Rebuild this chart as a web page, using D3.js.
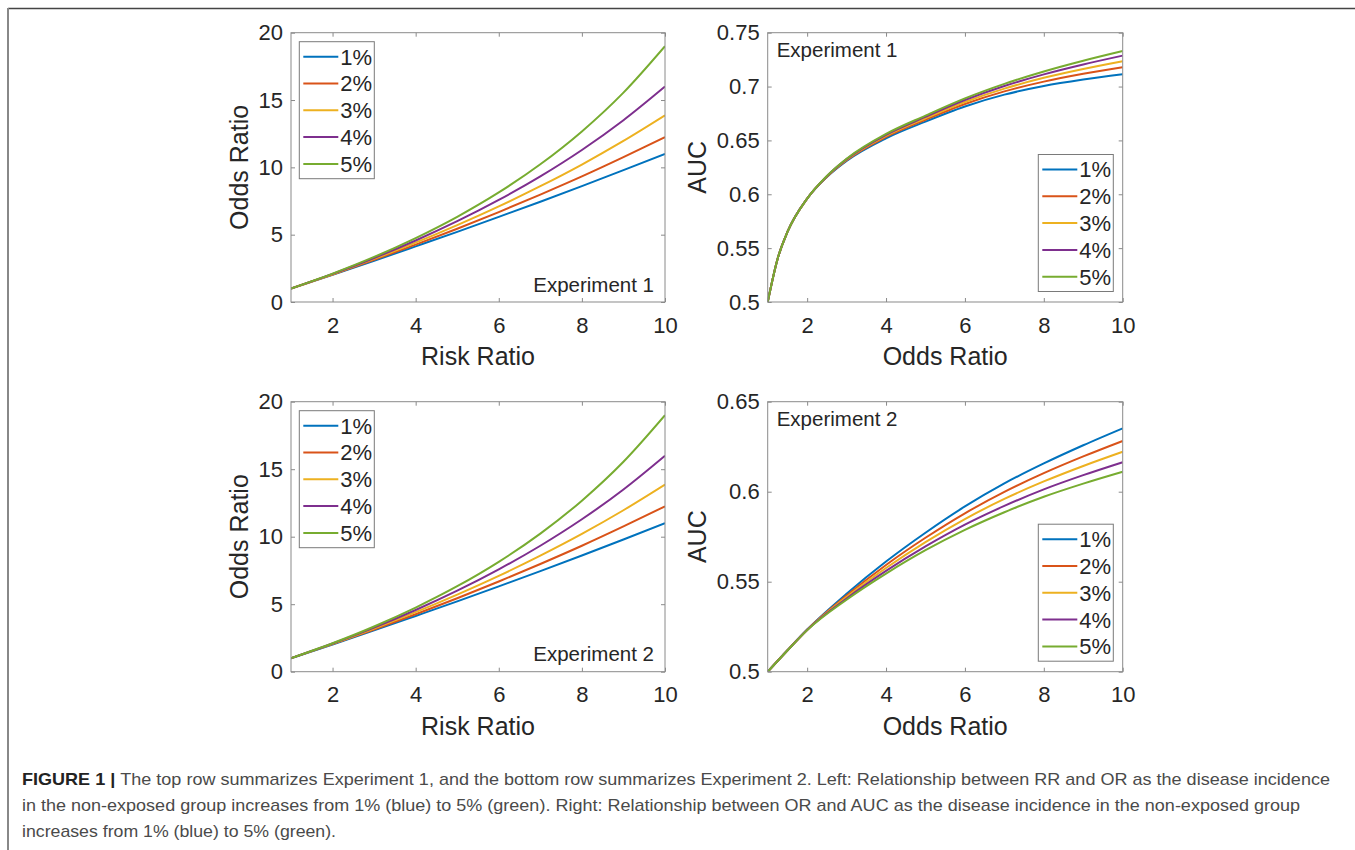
<!DOCTYPE html>
<html>
<head>
<meta charset="utf-8">
<script src="https://cdn.jsdelivr.net/npm/d3@7"></script>
<style>
  body { margin: 0; background: #fff; }
  svg { display: block; font-family: Arial, "Liberation Sans", Helvetica, sans-serif; }
</style>
</head>
<body>
<div id="chart"></div>
<script>
// series (incidence in the non-exposed group)
const seriesLabels = ["1%", "2%", "3%", "4%", "5%"];
const seriesColors = ["#0072BD", "#D95319", "#EDB120", "#7E2F8E", "#77AC30"];

// left panels: Risk Ratio -> Odds Ratio
const riskRatio = [1, 2, 3, 4, 5, 6, 7, 8, 9, 10];
const oddsRatio1 = [1, 2.02, 3.06, 4.13, 5.21, 6.32, 7.45, 8.61, 9.79, 11.0];
const oddsRatio2 = [1, 2.04, 3.13, 4.26, 5.44, 6.68, 7.98, 9.33, 10.76, 12.25];
const oddsRatio3 = [1, 2.06, 3.20, 4.41, 5.71, 7.10, 8.60, 10.21, 11.96, 13.86];
const oddsRatio4 = [1, 2.09, 3.27, 4.57, 6.00, 7.58, 9.33, 11.29, 13.50, 16.0];
const oddsRatio5 = [1, 2.11, 3.35, 4.75, 6.33, 8.14, 10.23, 12.67, 15.55, 19.0];

// top right: Odds Ratio -> AUC, Experiment 1
const orAxis1 = [1, 1.25, 1.5, 2, 2.5, 3, 4, 5, 6, 7, 8, 9, 10];
const aucExp1a = [0.5, 0.540, 0.565, 0.596, 0.616, 0.631, 0.652, 0.6675, 0.6815, 0.6925, 0.7005, 0.7065, 0.7115];
const aucExp1b = [0.5, 0.540, 0.565, 0.596, 0.6163, 0.6316, 0.6532, 0.6692, 0.6838, 0.6955, 0.7046, 0.7118, 0.718];
const aucExp1c = [0.5, 0.540, 0.565, 0.596, 0.6166, 0.6321, 0.6542, 0.6706, 0.6857, 0.6981, 0.7081, 0.7163, 0.7235];
const aucExp1d = [0.5, 0.540, 0.565, 0.596, 0.6168, 0.6326, 0.6552, 0.6719, 0.6875, 0.7005, 0.7113, 0.7205, 0.7287];
const aucExp1e = [0.5, 0.540, 0.565, 0.596, 0.617, 0.633, 0.656, 0.673, 0.689, 0.7025, 0.714, 0.724, 0.733];

// bottom right: Odds Ratio -> AUC, Experiment 2
const orAxis2 = [1, 1.5, 2, 3, 4, 5, 6, 7, 8, 9, 10];
const aucExp2a = [0.5, 0.5119, 0.5234, 0.5433, 0.5612, 0.5772, 0.5918, 0.6046, 0.6157, 0.6258, 0.6352];
const aucExp2b = [0.5, 0.5119, 0.5233, 0.5423, 0.5593, 0.5744, 0.5880, 0.5999, 0.6103, 0.6196, 0.6282];
const aucExp2c = [0.5, 0.5118, 0.5232, 0.5415, 0.5576, 0.5720, 0.5848, 0.5960, 0.6057, 0.6143, 0.6222];
const aucExp2d = [0.5, 0.5118, 0.5232, 0.5407, 0.5560, 0.5696, 0.5817, 0.5921, 0.6013, 0.6092, 0.6164];
const aucExp2e = [0.5, 0.5118, 0.5231, 0.5400, 0.5545, 0.5675, 0.5788, 0.5886, 0.5972, 0.6045, 0.6111];

// ticks
const xTickValues = [2, 4, 6, 8, 10];
const orTickValues = [0, 5, 10, 15, 20];
const aucTicks1 = [0.5, 0.55, 0.6, 0.65, 0.7, 0.75];
const aucTicks2 = [0.5, 0.55, 0.6, 0.65];

const captionLines = [
  "The top row summarizes Experiment 1, and the bottom row summarizes Experiment 2. Left: Relationship between RR and OR as the disease incidence",
  "in the non-exposed group increases from 1% (blue) to 5% (green). Right: Relationship between OR and AUC as the disease incidence in the non-exposed group",
  "increases from 1% (blue) to 5% (green)."
];

const width = 1355, height = 850;
const svg = d3.select("#chart").append("svg")
  .attr("width", width)
  .attr("height", height);

// figure frame (top + left rules)
svg.append("line").attr("x1", 8).attr("x2", width).attr("y1", 8.5).attr("y2", 8.5)
  .attr("stroke", "#444").attr("stroke-width", 1.5);
svg.append("line").attr("x1", 8).attr("x2", 8).attr("y1", 8).attr("y2", height)
  .attr("stroke", "#888").attr("stroke-width", 2);

const panels = [
  { left: 291, right: 665, top: 32.7, bottom: 302, xs: riskRatio,
    ys: [oddsRatio1, oddsRatio2, oddsRatio3, oddsRatio4, oddsRatio5],
    yDomain: [0, 20], yTicks: orTickValues, xLabel: "Risk Ratio", yLabel: "Odds Ratio",
    legend: "topleft", note: "Experiment 1", notePos: "bottomright" },
  { left: 767.7, right: 1122.7, top: 32.7, bottom: 302, xs: orAxis1,
    ys: [aucExp1a, aucExp1b, aucExp1c, aucExp1d, aucExp1e],
    yDomain: [0.5, 0.75], yTicks: aucTicks1, xLabel: "Odds Ratio", yLabel: "AUC",
    legend: "bottomright", note: "Experiment 1", notePos: "topleft" },
  { left: 291, right: 665, top: 401.7, bottom: 671.7, xs: riskRatio,
    ys: [oddsRatio1, oddsRatio2, oddsRatio3, oddsRatio4, oddsRatio5],
    yDomain: [0, 20], yTicks: orTickValues, xLabel: "Risk Ratio", yLabel: "Odds Ratio",
    legend: "topleft", note: "Experiment 2", notePos: "bottomright" },
  { left: 767.7, right: 1122.7, top: 401.7, bottom: 671.7, xs: orAxis2,
    ys: [aucExp2a, aucExp2b, aucExp2c, aucExp2d, aucExp2e],
    yDomain: [0.5, 0.65], yTicks: aucTicks2, xLabel: "Odds Ratio", yLabel: "AUC",
    legend: "bottomright", note: "Experiment 2", notePos: "topleft" }
];

const axisColor = "#8a8a8a";
const textColor = "#262626";

panels.forEach((p, pi) => {
  const w = p.right - p.left, h = p.bottom - p.top;
  const g = svg.append("g").attr("transform", `translate(${p.left},${p.top})`);

  const x = d3.scaleLinear().domain([1, 10]).range([0, w]);
  const y = d3.scaleLinear().domain(p.yDomain).range([h, 0]);

  g.append("clipPath").attr("id", "clip" + pi)
    .append("rect").attr("width", w).attr("height", h);

  // axes: bottom/left with labels, top/right ticks only
  const fmt = d => String(+d.toFixed(2));
  const xb = g.append("g").attr("transform", `translate(0,${h})`)
    .call(d3.axisBottom(x).tickValues(xTickValues).tickFormat(fmt).tickSizeInner(-4).tickSizeOuter(0).tickPadding(15));
  const yl = g.append("g")
    .call(d3.axisLeft(y).tickValues(p.yTicks).tickFormat(fmt).tickSizeInner(-4).tickSizeOuter(0).tickPadding(8));
  const xt = g.append("g")
    .call(d3.axisTop(x).tickValues(xTickValues).tickFormat("").tickSizeInner(-4).tickSizeOuter(0));
  const yr = g.append("g").attr("transform", `translate(${w},0)`)
    .call(d3.axisRight(y).tickValues(p.yTicks).tickFormat("").tickSizeInner(-4).tickSizeOuter(0));

  [xb, yl, xt, yr].forEach(a => {
    a.select(".domain").remove();
    a.selectAll("line").attr("stroke", axisColor);
    a.selectAll("text").attr("fill", textColor).style("font-size", "22px")
      .style("font-family", "Arial, 'Liberation Sans', sans-serif");
  });

  // curves
  const line = d3.line()
    .x(d => x(d[0]))
    .y(d => y(d[1]))
    .curve(d3.curveMonotoneX);

  const curves = g.append("g").attr("clip-path", `url(#clip${pi})`);
  p.ys.forEach((vals, si) => {
    curves.append("path")
      .datum(p.xs.map((xv, k) => [xv, vals[k]]))
      .attr("fill", "none")
      .attr("stroke", seriesColors[si])
      .attr("stroke-width", 2)
      .attr("d", line);
  });

  // box
  g.append("rect").attr("width", w).attr("height", h)
    .attr("fill", "none").attr("stroke", axisColor).attr("stroke-width", 1);

  // axis titles
  g.append("text")
    .attr("x", w / 2).attr("y", h + 63)
    .attr("text-anchor", "middle")
    .attr("fill", textColor)
    .style("font-size", "25px")
    .text(p.xLabel);

  g.append("text")
    .attr("transform", `translate(${pi % 2 === 0 ? -43 : -62},${h / 2}) rotate(-90)`)
    .attr("text-anchor", "middle")
    .attr("fill", textColor)
    .style("font-size", "25px")
    .text(p.yLabel);

  // legend
  const lw = 75, lh = 137;
  const lx = p.legend === "topleft" ? 8.3 : w - 9.4 - lw;
  const ly = p.legend === "topleft" ? 9 : h - 10.5 - lh;
  const legend = g.append("g").attr("transform", `translate(${lx},${ly})`);
  legend.append("rect").attr("width", lw).attr("height", lh)
    .attr("fill", "#fff").attr("stroke", "#7a7a7a").attr("stroke-width", 1);
  seriesLabels.forEach((lab, si) => {
    const ry = 15 + si * 26.8;
    legend.append("line")
      .attr("x1", 4).attr("x2", 39).attr("y1", ry).attr("y2", ry)
      .attr("stroke", seriesColors[si]).attr("stroke-width", 2);
    legend.append("text")
      .attr("x", 41).attr("y", ry).attr("dy", "0.36em")
      .attr("fill", textColor)
      .style("font-size", "22px")
      .text(lab);
  });

  // experiment label
  const note = g.append("text")
    .attr("fill", textColor)
    .style("font-size", "20.5px")
    .text(p.note);
  if (p.notePos === "bottomright") {
    note.attr("x", w - 11).attr("y", h - 10.3).attr("text-anchor", "end");
  } else {
    note.attr("x", 9).attr("y", 24.6).attr("text-anchor", "start");
  }
});

// caption
const captionY = [785, 811, 837];
const captionWidths = [1308, 1278, 314];
captionLines.forEach((txt, i) => {
  const t = svg.append("text")
    .attr("x", 22).attr("y", captionY[i])
    .attr("fill", "#4a4a4a")
    .style("font-size", "17px")
    .attr("textLength", captionWidths[i])
    .attr("lengthAdjust", "spacingAndGlyphs");
  if (i === 0) {
    t.append("tspan").attr("font-weight", "bold").attr("fill", "#222").text("FIGURE 1 | ");
  }
  t.append("tspan").text(txt);
});
</script>
</body>
</html>
